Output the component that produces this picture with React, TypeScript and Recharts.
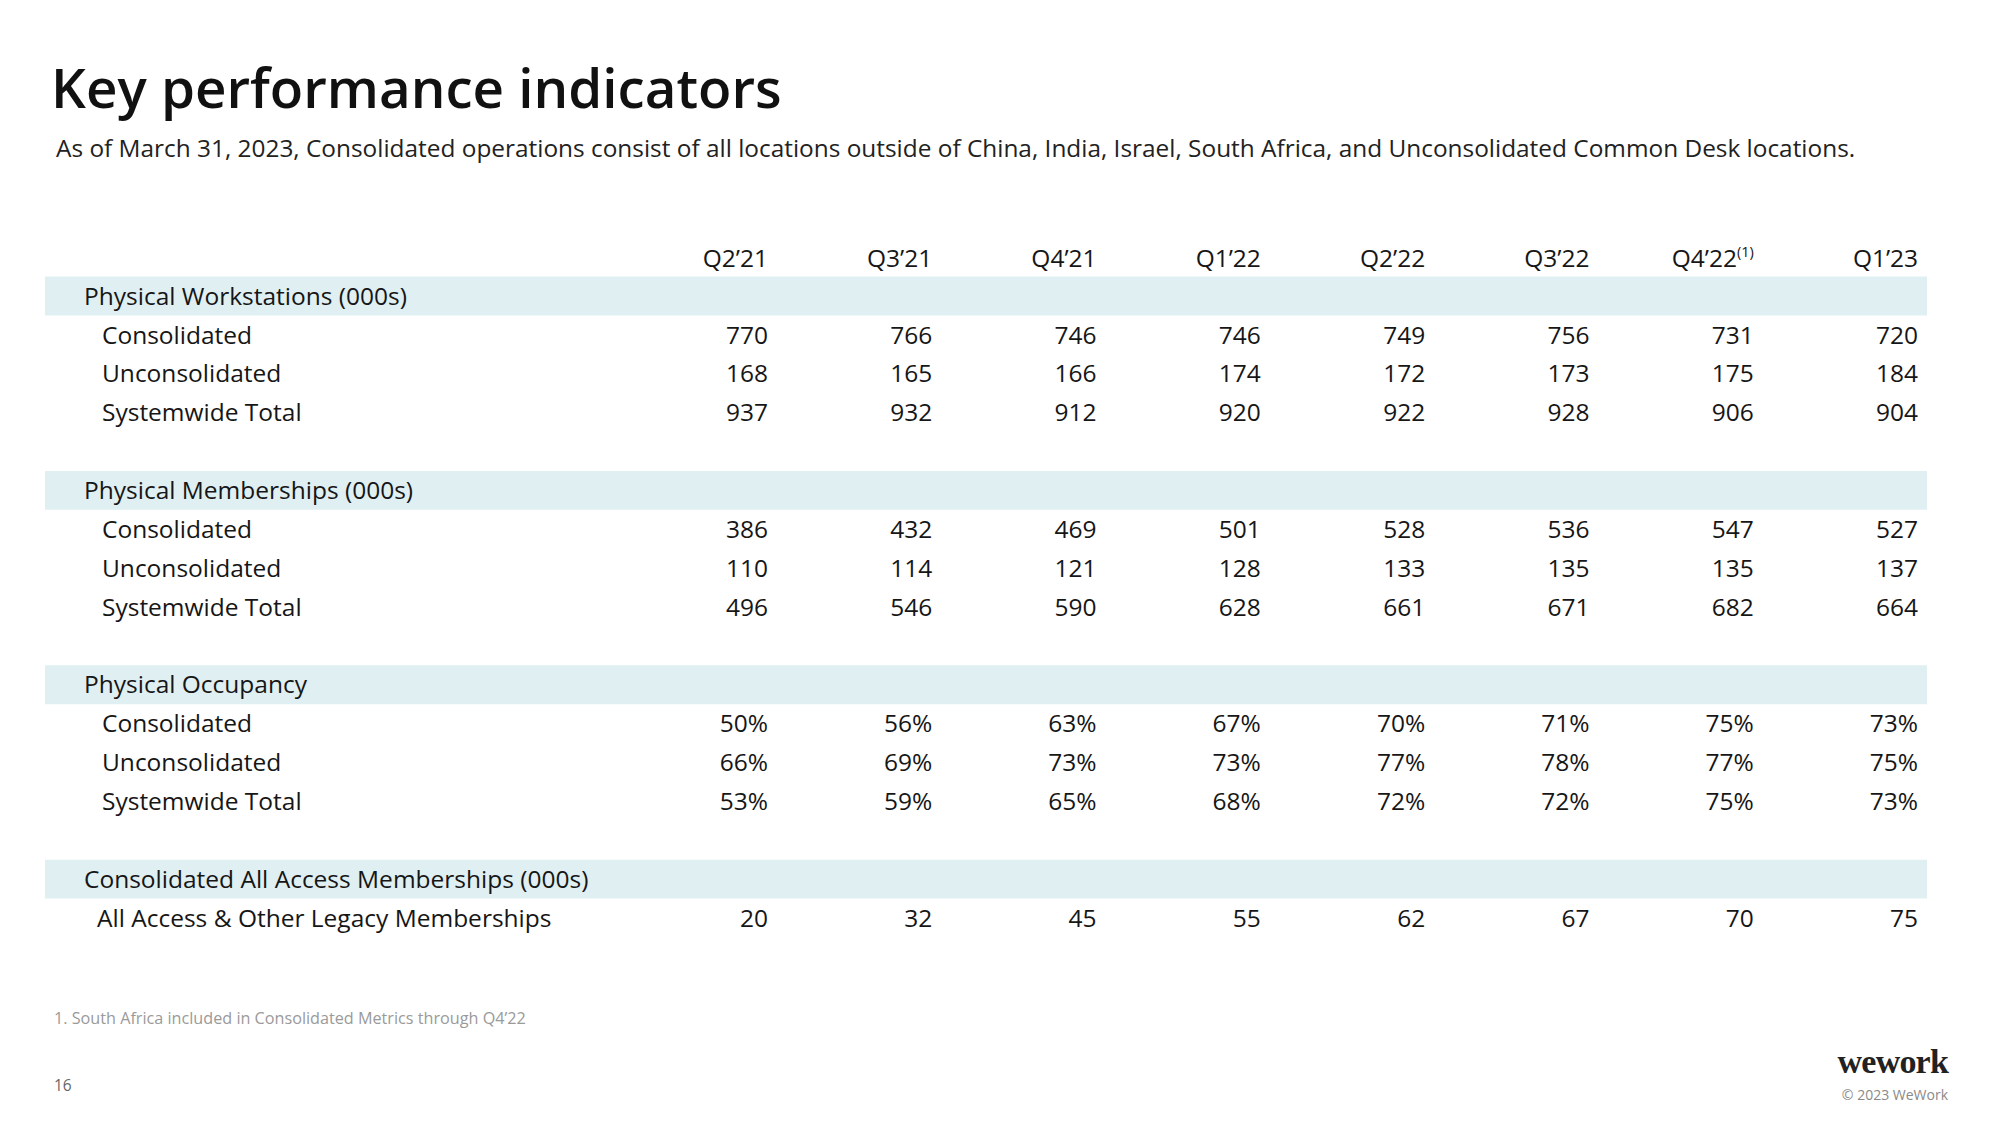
import React from "react";
import { ScatterChart, Scatter, XAxis, YAxis, ReferenceArea } from "recharts";

// ---------- data ----------
const quarters = ["Q2’21", "Q3’21", "Q4’21", "Q1’22", "Q2’22", "Q3’22", "Q4’22", "Q1’23"];
const quarterNotes = ["", "", "", "", "", "", "(1)", ""];

const workstationsConsolidated = [770, 766, 746, 746, 749, 756, 731, 720];
const workstationsUnconsolidated = [168, 165, 166, 174, 172, 173, 175, 184];
const workstationsTotal = [937, 932, 912, 920, 922, 928, 906, 904];

const membershipsConsolidated = [386, 432, 469, 501, 528, 536, 547, 527];
const membershipsUnconsolidated = [110, 114, 121, 128, 133, 135, 135, 137];
const membershipsTotal = [496, 546, 590, 628, 661, 671, 682, 664];

const occupancyConsolidated = [50, 56, 63, 67, 70, 71, 75, 73];
const occupancyUnconsolidated = [66, 69, 73, 73, 77, 78, 77, 75];
const occupancyTotal = [53, 59, 65, 68, 72, 72, 75, 73];

const allAccessMemberships = [20, 32, 45, 55, 62, 67, 70, 75];

type RowKind = "section" | "item" | "itemWide" | "blank";
const rowLabels: { label: string; kind: RowKind }[] = [
  { label: "Physical Workstations (000s)", kind: "section" },
  { label: "Consolidated", kind: "item" },
  { label: "Unconsolidated", kind: "item" },
  { label: "Systemwide Total", kind: "item" },
  { label: "", kind: "blank" },
  { label: "Physical Memberships (000s)", kind: "section" },
  { label: "Consolidated", kind: "item" },
  { label: "Unconsolidated", kind: "item" },
  { label: "Systemwide Total", kind: "item" },
  { label: "", kind: "blank" },
  { label: "Physical Occupancy", kind: "section" },
  { label: "Consolidated", kind: "item" },
  { label: "Unconsolidated", kind: "item" },
  { label: "Systemwide Total", kind: "item" },
  { label: "", kind: "blank" },
  { label: "Consolidated All Access Memberships (000s)", kind: "section" },
  { label: "All Access & Other Legacy Memberships", kind: "itemWide" },
];

const seriesList = [
  { name: "workstationsConsolidated", row: 1, values: workstationsConsolidated, suffix: "" },
  { name: "workstationsUnconsolidated", row: 2, values: workstationsUnconsolidated, suffix: "" },
  { name: "workstationsTotal", row: 3, values: workstationsTotal, suffix: "" },
  { name: "membershipsConsolidated", row: 6, values: membershipsConsolidated, suffix: "" },
  { name: "membershipsUnconsolidated", row: 7, values: membershipsUnconsolidated, suffix: "" },
  { name: "membershipsTotal", row: 8, values: membershipsTotal, suffix: "" },
  { name: "occupancyConsolidated", row: 11, values: occupancyConsolidated, suffix: "%" },
  { name: "occupancyUnconsolidated", row: 12, values: occupancyUnconsolidated, suffix: "%" },
  { name: "occupancyTotal", row: 13, values: occupancyTotal, suffix: "%" },
  { name: "allAccessMemberships", row: 16, values: allAccessMemberships, suffix: "" },
];

// ---------- layout ----------
const FONT = "'Open Sans', Roboto, sans-serif";
const TEXT = "#161616";
const BAND = "#E0EFF2";
const FS = 24.5;
const BASE = 8.7;
const X_DOMAIN: [number, number] = [-4.4, 7.054];
const Y_DOMAIN: [number, number] = [-0.5, rowLabels.length - 0.5];
const colTicks = quarters.map((_, i) => i);
const rowTicks = rowLabels.map((_, i) => i);
const sectionRows = rowLabels.map((r, i) => (r.kind === "section" ? i : -1)).filter((i) => i >= 0);

const HeaderTick = (props: any) => {
  const { x, y, payload } = props;
  const i = payload.value as number;
  return (
    <text x={x} y={y - 10} textAnchor="end" fontFamily={FONT} fontSize={FS} fill={TEXT}>
      <tspan>{quarters[i]}</tspan>
      {quarterNotes[i] ? (
        <tspan dy={-10} fontSize={14.5}>
          {quarterNotes[i]}
        </tspan>
      ) : null}
    </text>
  );
};

const RowTick = (props: any) => {
  const { x, y, payload } = props;
  const r = rowLabels[payload.value as number];
  if (!r || !r.label) return <g />;
  const off = r.kind === "section" ? 39 : r.kind === "itemWide" ? 52 : 57;
  return (
    <text x={x + off} y={y + BASE} textAnchor="start" fontFamily={FONT} fontSize={FS} fill={TEXT}>
      {r.label}
    </text>
  );
};

const ValueShape = (props: any) => {
  const { cx, cy, payload } = props;
  return (
    <text x={cx} y={cy + BASE} textAnchor="end" fontFamily={FONT} fontSize={FS} fill={TEXT}>
      {payload.text}
    </text>
  );
};

export default function App() {
  return (
    <div style={{ position: "absolute", left: 0, top: 0, width: 2000, height: 1125, background: "#fff" }}>
      <ScatterChart width={2000} height={1125} margin={{ top: 236.5, right: 73, bottom: 187.5, left: 0 }}>
        <XAxis
          type="number"
          dataKey="col"
          orientation="top"
          domain={X_DOMAIN}
          allowDataOverflow
          ticks={colTicks}
          interval={0}
          height={40}
          tickSize={0}
          tickMargin={0}
          axisLine={false}
          tickLine={false}
          tick={(p: any) => <HeaderTick {...p} />}
        />
        <YAxis
          type="number"
          dataKey="row"
          domain={Y_DOMAIN}
          reversed
          allowDataOverflow
          ticks={rowTicks}
          interval={0}
          width={45}
          tickSize={0}
          tickMargin={0}
          axisLine={false}
          tickLine={false}
          tick={(p: any) => <RowTick {...p} />}
        />
        {sectionRows.map((r) => (
          <ReferenceArea key={r} y1={r - 0.5} y2={r + 0.5} fill={BAND} fillOpacity={1} stroke="none" ifOverflow="visible" />
        ))}
        {seriesList.map((s) => (
          <Scatter
            key={s.name}
            name={s.name}
            data={s.values.map((v, i) => ({ col: i, row: s.row, text: `${v}${s.suffix}` }))}
            shape={(p: any) => <ValueShape {...p} />}
            isAnimationActive={false}
          />
        ))}
      </ScatterChart>
      <svg width={2000} height={1125} style={{ position: "absolute", left: 0, top: 0, pointerEvents: "none" }}>
        <text x={51} y={108} fontFamily={FONT} fontSize={54.7} fontWeight={600} fill="#111">
          Key performance indicators
        </text>
        <text x={56} y={157} fontFamily={FONT} fontSize={24.4} fill="#222">
          As of March 31, 2023, Consolidated operations consist of all locations outside of China, India, Israel, South Africa, and Unconsolidated Common Desk locations.
        </text>
        <text x={54} y={1024} fontFamily={FONT} fontSize={16.2} fill="#9a9a9a">
          1. South Africa included in Consolidated Metrics through Q4’22
        </text>
        <text x={54} y={1091} fontFamily={FONT} fontSize={15.5} fill="#666">
          16
        </text>
        <text x={1948} y={1073} textAnchor="end" fontFamily="'Liberation Serif', serif" fontWeight={700} fontSize={34} letterSpacing={-0.8} fill="#222">
          wework
        </text>
        <text x={1948} y={1100} textAnchor="end" fontFamily={FONT} fontSize={14} fill="#8a8a8a">
          © 2023 WeWork
        </text>
      </svg>
    </div>
  );
}
